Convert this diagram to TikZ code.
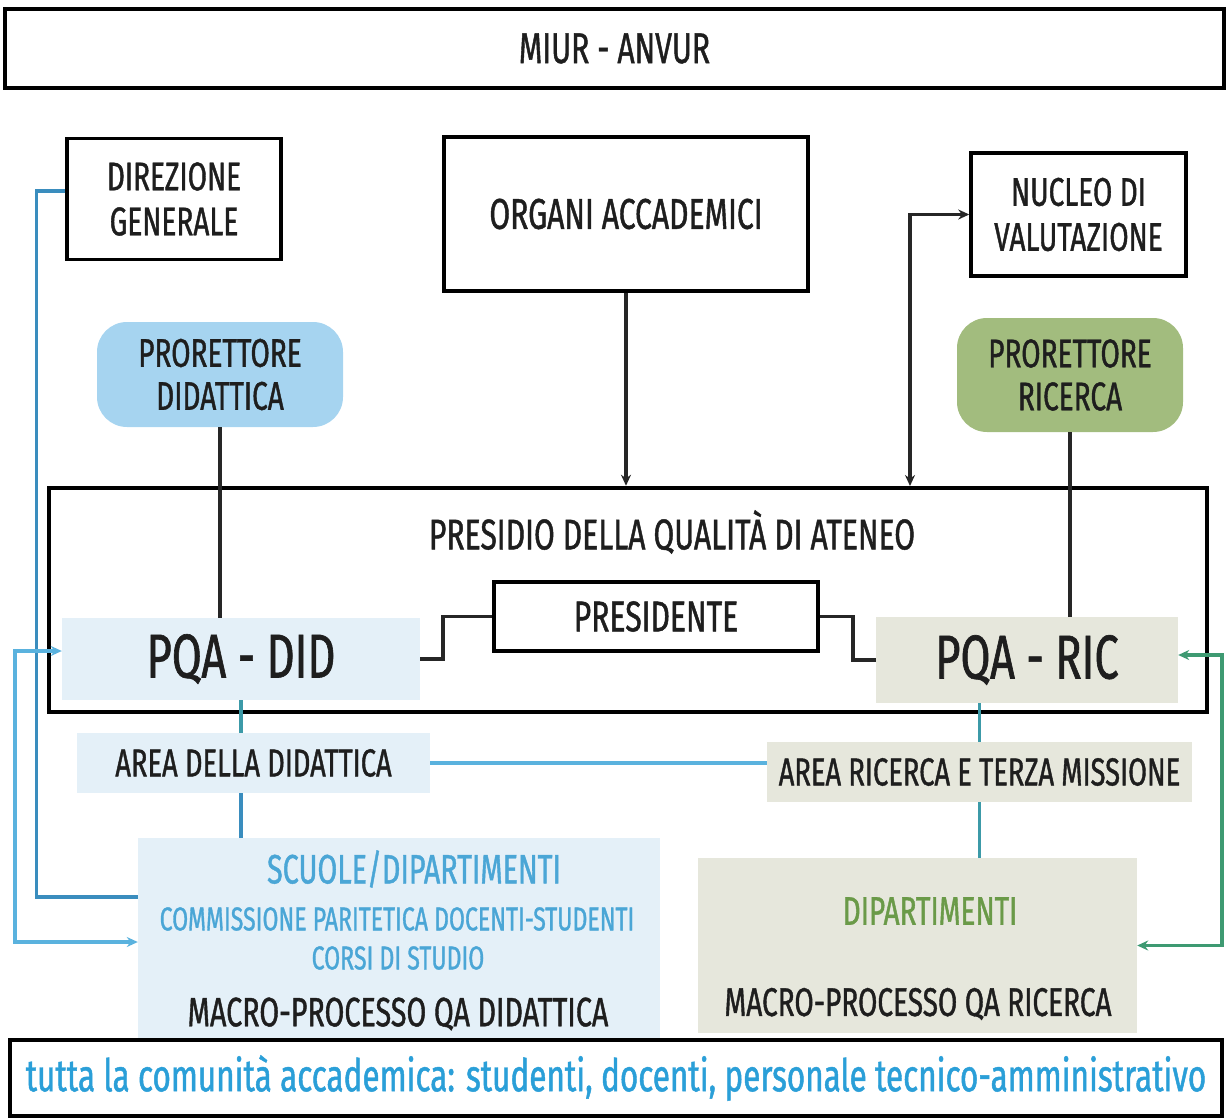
\documentclass[tikz,border=0pt]{standalone}
\usepackage{fontspec}
\setmainfont{Fira Sans}[FakeStretch=0.7,FakeBold=1]
\usetikzlibrary{arrows.meta,calc}
\definecolor{txt}{HTML}{1E1E1E}
\definecolor{fillblue}{HTML}{E4F0F8}
\definecolor{fillbeige}{HTML}{E6E7DC}
\definecolor{problue}{HTML}{A6D4F0}
\definecolor{progreen}{HTML}{A2BC7E}
\definecolor{lineblueA}{HTML}{3A8DBE}
\definecolor{lineblueB}{HTML}{5AB2DE}
\definecolor{lineteal}{HTML}{3C9AA8}
\definecolor{linegreen}{HTML}{3E9A72}
\definecolor{txtblue}{HTML}{4AA6D6}
\definecolor{txtgreen}{HTML}{6A9A48}
\definecolor{txtcyan}{HTML}{2A9FD8}
\tikzset{
  fs/.style={font=\fontsize{#1}{#1}\selectfont},
  framebox/.style={draw=black, line width=3.5pt, fill=white, inner sep=0pt, text=txt, align=center},
  softbox/.style={fill=#1, draw=none, inner sep=0pt, text=txt, align=center},
  probox/.style={fill=#1, draw=none, rounded corners=30pt, inner sep=0pt, text=txt, align=center},
  plain/.style={inner sep=0pt, align=center},
  blk/.style={draw=black!85, line width=3.5pt},
  tip/.style={-{Stealth[length=11pt,width=10pt]}},
  tips/.style={{Stealth[length=11pt,width=10pt]}-{Stealth[length=11pt,width=10pt]}},
}
\begin{document}
\begin{tikzpicture}[x=1pt,y=-1pt]
\useasboundingbox (0,0) rectangle (1227,1119);
% top
\node[framebox, minimum width=1219pt, minimum height=79pt, fs=43] (MIUR) at (614.5,48.5) {MIUR - ANVUR};
\node[framebox, minimum width=214pt, minimum height=121pt, fs=40] (DG) at (174,199) {DIREZIONE\\[5pt]GENERALE};
\node[framebox, minimum width=364pt, minimum height=154pt, fs=43] (ORG) at (626,214) {ORGANI ACCADEMICI};
\node[framebox, minimum width=215pt, minimum height=123pt, fs=40] (NV) at (1078.5,214.5) {NUCLEO DI\\[5pt]VALUTAZIONE};
\node[probox=problue, minimum width=246pt, minimum height=105pt, fs=40] (PD) at (220,374.5) {PRORETTORE\\[3pt]DIDATTICA};
\node[probox=progreen, minimum width=226pt, minimum height=114pt, fs=40] (PR) at (1070,375) {PRORETTORE\\[3pt]RICERCA};
% presidio
\node[draw=black, line width=4.5pt, inner sep=0pt, minimum width=1158pt, minimum height=224pt] (PQ) at (628,600) {};
\node[plain, text=txt, fs=43] (PQT) at (672,532) {PRESIDIO DELLA QUALITÀ DI ATENEO};
\node[framebox, minimum width=324pt, minimum height=69pt, fs=43] (PRES) at (656,616.5) {PRESIDENTE};
\node[softbox=fillblue, minimum width=358pt, minimum height=82pt, fs=62] (PQAD) at (241,659) {PQA - DID};
\node[softbox=fillbeige, minimum width=302pt, minimum height=86pt, fs=62] (PQAR) at (1027,660) {PQA - RIC};
% areas
\node[softbox=fillblue, minimum width=353pt, minimum height=60pt, fs=39] (AD) at (253.5,763) {AREA DELLA DIDATTICA};
\node[softbox=fillbeige, minimum width=425pt, minimum height=60pt, fs=39] (AR) at (979.5,772) {AREA RICERCA E TERZA MISSIONE};
% lower boxes
\node[softbox=fillblue, minimum width=522pt, minimum height=202pt] (SC) at (399,939) {};
\node[plain, text=txtblue, fs=41] (SC1) at (414,869) {SCUOLE/DIPARTIMENTI};
\node[plain, text=txtblue, fs=33] (SC2) at (397,919) {COMMISSIONE PARITETICA DOCENTI-STUDENTI};
\node[plain, text=txtblue, fs=33] (SC3) at (398,958) {CORSI DI STUDIO};
\node[plain, text=txt, fs=41] (SC4) at (398,1014) {MACRO-PROCESSO QA DIDATTICA};
\node[softbox=fillbeige, minimum width=439pt, minimum height=175pt] (DIP) at (917.5,945.5) {};
\node[plain, text=txtgreen, fs=40] (DIP1) at (930,911) {DIPARTIMENTI};
\node[plain, text=txt, fs=40] (DIP2) at (918,1004) {MACRO-PROCESSO QA RICERCA};
% bottom
\node[framebox, minimum width=1212pt, minimum height=76pt, text=txtcyan, fs=45] (ALL) at (616,1078) {tutta la comunità accademica: studenti, docenti, personale tecnico-amministrativo};
% connectors
\draw[blk] (PD.south) -- (PD.south |- PQAD.north);
\draw[blk] (PR.south) -- (PR.south |- PQAR.north);
\draw[blk, tip] (ORG.south) -- (ORG.south |- PQ.north);
\coordinate (nvk) at (910,486);
\draw[blk, tips] (NV.west) -| (nvk);
\draw[blk] (PQAD.east) -- ++(23,0) |- (PRES.west);
\draw[blk] (PRES.east) -- ++(33,0) |- (PQAR.west);
\draw[lineteal, line width=3.5pt] (PQAD.south) -- (PQAD.south |- AD.north);
\draw[lineblueA, line width=3.5pt] (AD.south -| PQAD.south) -- (PQAD.south |- SC.north);
\draw[lineteal, line width=3.5pt] (AR.north |- PQAR.south) -- (AR.north);
\draw[lineteal, line width=3.5pt] (AR.south) -- (AR.south |- DIP.north);
\draw[lineblueB, line width=4.5pt] (AD.east) -- (AD.east -| AR.west);
\draw[lineblueA, line width=3.5pt] ($(DG.west)+(0,-8)$) -- ++(-29,0) |- ($(SC.west)+(0,-42)$);
\draw[lineblueB, line width=4pt, tips] ($(PQAD.west)+(0,-8)$) -- ++(-47,0) |- ($(SC.west)+(0,3)$);
\draw[linegreen, line width=3.5pt, tips] ($(PQAR.east)+(0,-5)$) -- ++(44,0) |- (DIP.east);
\end{tikzpicture}
\end{document}
